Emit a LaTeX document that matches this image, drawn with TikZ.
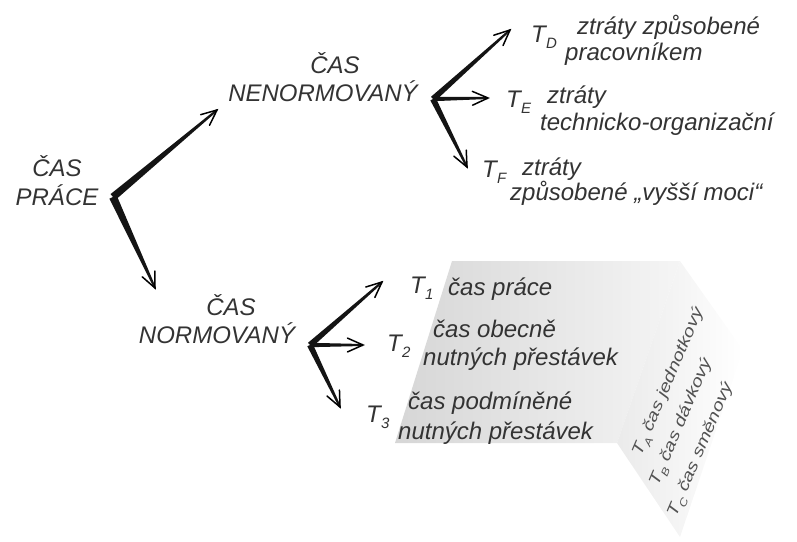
\documentclass[tikz,border=0pt]{standalone}
\usepackage{fontspec}
\setmainfont{Liberation Sans}
\usetikzlibrary{calc}
\newcommand\Tsb[2][15]{T\kern0.3pt\raisebox{-0.28em}{\fontsize{#1}{#1}\selectfont #2}}
\newcommand\tarrow[3]{%
  \fill[black!92] ($(#1)!#3!90:(#2)$) -- ($(#2)!1pt!-90:(#1)$) -- ($(#2)!1pt!90:(#1)$) -- ($(#1)!#3!-90:(#2)$) -- cycle;
  \draw[arrhead] ($(#2)!17pt!24:(#1)$) -- (#2) -- ($(#2)!17pt!-24:(#1)$);}
\tikzset{
  lbl/.style={font=\fontsize{24}{26}\selectfont\itshape, text=black!80, inner sep=0pt},
  capslbl/.style={lbl, anchor=base},
  txtlbl/.style={lbl, anchor=base west},
  rlbl/.style={font=\fontsize{20}{22}\selectfont\itshape, text=black!68, inner sep=0pt, rotate=67, anchor=base west},
  arrhead/.style={draw=black, line width=1.5pt, line cap=round, line join=miter},
}
\newcommand\squash[1]{\scalebox{1}[0.8]{#1}}
\begin{document}
\begin{tikzpicture}[x=1pt,y=-1pt]
\useasboundingbox (0,0) rectangle (797,541);
% grey sheet
\shade[left color=black!16, right color=black!4]
  (452,261) -- (680,261) -- (617,443) -- (395,443) -- cycle;
\shade[left color=black!8, right color=white]
  (680,261) -- (743,350) -- (680,537) -- (617,443) -- cycle;

% labels
\node[capslbl] (cp1) at (57,176) {ČAS};
\node[capslbl] (cp2) at (57,205) {PRÁCE};
\node[capslbl] (cn1) at (335,73) {ČAS};
\node[capslbl] (cn2) at (323,101) {NENORMOVANÝ};
\node[capslbl] (cm1) at (231,315) {ČAS};
\node[capslbl] (cm2) at (217,343) {NORMOVANÝ};

\node[txtlbl] (td) at (531,42) {\Tsb{D}};
\node[txtlbl] (td1) at (577,34) {ztráty způsobené};
\node[txtlbl] (td2) at (565,60) {pracovníkem};
\node[txtlbl] (te) at (506,107) {\Tsb{E}};
\node[txtlbl] (te1) at (547,103) {ztráty};
\node[txtlbl] (te2) at (540,130) {technicko-organizační};
\node[txtlbl] (tf) at (482,177) {\Tsb{F}};
\node[txtlbl] (tf1) at (522,175) {ztráty};
\node[txtlbl] (tf2) at (510,200) {způsobené „vyšší moci“};

\node[txtlbl] (t1) at (410,293) {\Tsb{1}};
\node[txtlbl] (t11) at (448,295) {čas práce};
\node[txtlbl] (t2) at (387,351) {\Tsb{2}};
\node[txtlbl] (t21) at (433,337) {čas obecně};
\node[txtlbl] (t22) at (423,365) {nutných přestávek};
\node[txtlbl] (t3) at (366,422) {\Tsb{3}};
\node[txtlbl] (t31) at (408,409) {čas podmíněné};
\node[txtlbl] (t32) at (398,439) {nutných přestávek};

\node[rlbl] (ta) at (641,457) {\squash{\Tsb[13]{A}\ čas jednotkový}};
\node[rlbl] (tb) at (658,487) {\squash{\Tsb[13]{B}\ čas dávkový}};
\node[rlbl] (tc) at (676,518) {\squash{\Tsb[13]{C}\ čas směnový}};

% forks
\coordinate (o1) at (113,197);
\coordinate (a1) at (217,110);
\coordinate (b1) at (155,288);
\coordinate (o2) at (433,99);
\coordinate (a2) at (510,30);
\coordinate (b2) at (488,98);
\coordinate (c2) at (467,167);
\coordinate (o3) at (310,345);
\coordinate (a3) at (382,282);
\coordinate (b3) at (363,345);
\coordinate (c3) at (340,407);

\tarrow{o1}{a1}{3.8pt}
\tarrow{o1}{b1}{4pt}
\tarrow{o2}{a2}{3pt}
\tarrow{o2}{b2}{2.2pt}
\tarrow{o2}{c2}{3pt}
\tarrow{o3}{a3}{3pt}
\tarrow{o3}{b3}{2.2pt}
\tarrow{o3}{c3}{3pt}
\end{tikzpicture}
\end{document}
